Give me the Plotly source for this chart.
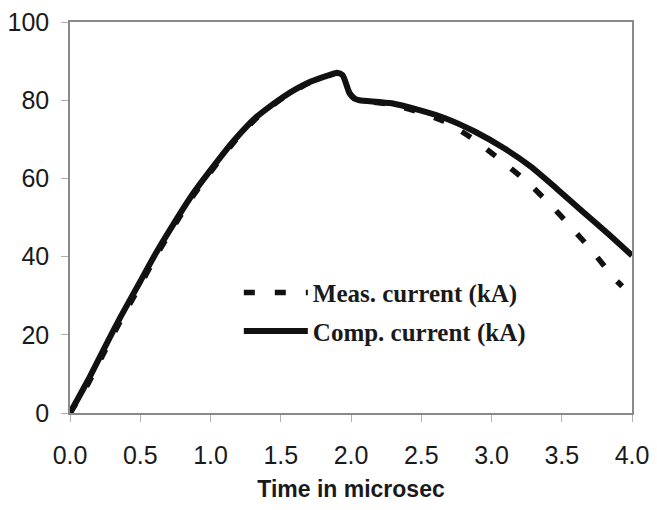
import plotly.graph_objects as go

# Computed current (kA) vs time (microsec)
comp_t = [0.0, 0.13, 0.25, 0.36, 0.49, 0.61, 0.74, 0.87, 1.0, 1.17, 1.33, 1.52, 1.71, 1.85, 1.90,
          1.94, 1.99, 2.03, 2.06, 2.29, 2.48, 2.67, 2.88, 3.09, 3.28, 3.46, 3.65, 3.84, 4.0]
comp_i = [0.0, 8.5, 17.0, 24.6, 33.0, 40.8, 48.5, 55.8, 62.1, 69.8, 75.8, 80.9, 84.7, 86.5, 87.0,
          86.4, 81.8, 80.3, 80.0, 79.2, 77.5, 75.4, 72.0, 67.7, 63.0, 57.5, 51.5, 45.5, 40.3]

# Measured current (kA) vs time (microsec)
meas_t = [0.0, 0.13, 0.25, 0.36, 0.49, 0.61, 0.74, 0.87, 1.0, 1.17, 1.33, 1.52, 1.71, 1.85, 1.90,
          1.94, 1.99, 2.03, 2.06, 2.29, 2.48, 2.67, 2.86, 3.05, 3.25, 3.41, 3.57, 3.72, 3.87, 3.93]
meas_i = [0.0, 7.6, 16.0, 23.6, 32.0, 40.0, 47.8, 55.2, 61.6, 69.4, 75.5, 80.7, 84.6, 86.4, 86.9,
          86.3, 81.7, 80.2, 79.9, 78.9, 77.0, 74.5, 70.3, 65.1, 59.2, 53.6, 47.4, 41.3, 34.6, 32.4]

x_ticks = [0.0, 0.5, 1.0, 1.5, 2.0, 2.5, 3.0, 3.5, 4.0]
x_tick_labels = ["0.0", "0.5", "1.0", "1.5", "2.0", "2.5", "3.0", "3.5", "4.0"]
y_ticks = [0, 20, 40, 60, 80, 100]

fig = go.Figure()
fig.add_trace(go.Scatter(
    x=meas_t, y=meas_i, mode="lines", name="Meas. current (kA)",
    legendgroup="m",
    line=dict(color="#111111", width=5.5, dash="11px,20px", shape="spline", smoothing=0.6),
))
fig.add_trace(go.Scatter(
    x=comp_t, y=comp_i, mode="lines", name="Comp. current (kA)",
    legendgroup="c",
    line=dict(color="#111111", width=6, shape="spline", smoothing=0.6),
))

tick_font = dict(family="Liberation Sans, Arial, sans-serif", size=25, color="#1a1a1a")
axis_common = dict(
    showgrid=False, zeroline=False, showline=True, linecolor="#8a8a8a", linewidth=1.5,
    mirror=True, ticks="outside", tickcolor="#b0b0b0", ticklen=7, tickwidth=1,
    tickfont=tick_font, ticklabeloverflow="allow", automargin=False,
)

# page body has an 8px margin; figure size and margins compensate for it
fig.update_layout(
    width=641, height=494,
    margin=dict(l=62, r=17, t=14, b=89),
    paper_bgcolor="white", plot_bgcolor="white",
    xaxis=dict(range=[0, 4], tickvals=x_ticks, ticktext=x_tick_labels,
               ticklabelstandoff=12,
               title=dict(text="Time in microsec",
                          font=dict(family="Liberation Sans, Arial, sans-serif",
                                    size=23, color="#1a1a1a", weight="bold")),
               **axis_common),
    yaxis=dict(range=[0, 100], tickvals=y_ticks, ticklabelstandoff=7, **axis_common),
    showlegend=True,
    legend=dict(x=0.3004, y=0.3665, xanchor="left", yanchor="top",
                bgcolor="rgba(0,0,0,0)", itemwidth=64, tracegroupgap=3,
                font=dict(family="Liberation Serif, Times New Roman, serif", size=25,
                          color="#1a1a1a", weight="bold")),
)

fig.write_html("out.html")
